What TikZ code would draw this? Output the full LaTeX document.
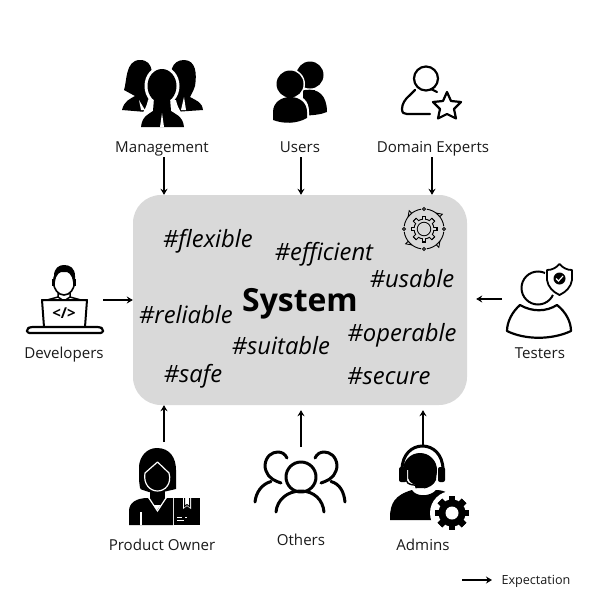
\documentclass[tikz,border=0pt]{standalone}
\usepackage{fontspec}
\setmainfont{Open Sans}
\usetikzlibrary{arrows.meta}
\definecolor{boxgrey}{HTML}{D9D9D9}
\definecolor{lblcol}{HTML}{1A1A1A}
\tikzset{
  arr/.style={-{Stealth[length=6pt,width=7pt]},line width=1.5pt,black,shorten >=0pt},
  lbl/.style={font=\fontsize{15.1}{17}\selectfont,text=lblcol,inner sep=0pt,anchor=center},
  tag/.style={font=\fontsize{23.8}{26}\selectfont\itshape,text=black,inner sep=0pt,anchor=center},
  sysbox/.style={fill=boxgrey,rounded corners=28pt,draw=none},
  ol/.style={draw=black,line width=2.2pt,line cap=round,line join=round},
  wl/.style={draw=white,line width=1.5pt}
}
\newcommand{\gearshape}[7]{%
  \begin{scope}[shift={(#1,#2)}]
    \fill[#6] (0,0) circle[radius=#4 pt];
    \foreach \a in {1,...,#7}{
      \fill[#6,rotate=\a*360/#7] (-#5,-#3) rectangle (#5,#3);
    }
  \end{scope}}
\begin{document}
\begin{tikzpicture}[x=1pt,y=-1pt]
\useasboundingbox (0,0) rectangle (600,600);
\fill[white] (0,0) rectangle (600,600);

% central box
\node[sysbox,minimum width=334pt,minimum height=210pt,inner sep=0pt] (sys) at (300,300) {};
\node[font=\fontsize{31.9}{34}\selectfont\bfseries,inner sep=0pt] (systxt) at (300,304) {System};
\node[tag] (t1) at (208,241) {\#flexible};
\node[tag] (t2) at (324,254) {\#efficient};
\node[tag] (t3) at (412,279) {\#usable};
\node[tag] (t4) at (186,315) {\#reliable};
\node[tag] (t5) at (402,335) {\#operable};
\node[tag] (t6) at (281,346) {\#suitable};
\node[tag] (t7) at (193,376) {\#safe};
\node[tag] (t8) at (389,376) {\#secure};

% gear icon in box
\gearshape{424}{229}{13.5}{10.5}{2.4}{black}{8}
\gearshape{424}{229}{12.3}{9.4}{1.3}{boxgrey}{8}
\fill[black] (424,229) circle[radius=7.2pt];
\fill[boxgrey] (424,229) circle[radius=6.2pt];
\foreach \a in {0,90,180,270}{
  \draw[black,line width=0.9pt,fill=boxgrey] (424,229) ++(\a:20pt) circle[radius=1.5pt];
  \draw[black,line width=0.9pt] (424,229) ++(\a+8:20pt) arc[start angle=\a+8,delta angle=74,radius=20pt];
  \filldraw[fill=boxgrey,draw=black,line width=0.8pt] (424,229) ++(\a+45:20pt) ++(\a+135:2.5pt) -- ++(\a+315:5pt) -- ++(\a+45:3.5pt) -- cycle;
}

% Management
\fill (122,110) .. controls (124,101) and (130,99) .. (135,96)
  -- (124,90) .. controls (127,82) and (125,60) .. (140,60)
  .. controls (155,60) and (153,78) .. (150,90) -- (146,112) -- cycle;
\fill (174,112) -- (172,90) .. controls (168,72) and (172,60) .. (184,60)
  .. controls (196,60) and (197,74) .. (195,86) .. controls (193,92) and (191,95) .. (190,97)
  .. controls (197,101) and (202,102) .. (203,110) -- cycle;
\fill[white] (162,86) ellipse[x radius=17.5pt,y radius=20pt];
\fill[white] (137,130) .. controls (138,115) and (146,112) .. (148,100) -- (176,100)
  .. controls (178,112) and (186,115) .. (188,130) -- cycle;
\fill (162,86) ellipse[x radius=14.5pt,y radius=17pt];
\fill (141,127) .. controls (142,116) and (149,114) .. (153,111) -- (154,98) -- (170,98)
  -- (171,111) .. controls (175,114) and (183,116) .. (184,127) -- cycle;
\fill[white] (162,113) -- (160,127) -- (164,127) -- cycle;
\fill[white] (139,100) -- (141,110) -- (145,110) -- cycle;
\fill[white] (184,97) -- (181,110) -- (186,110) -- cycle;

% Users
\fill (310,75) circle[radius=13.5pt];
\fill (303,90) rectangle (315,100);
\fill (305,90) .. controls (318,88) and (327,95) .. (327,112)
  .. controls (320,115) and (312,115) .. (303,116) -- cycle;
\fill[white] (290,84) circle[radius=15pt];
\fill[white] (271,125) -- (271,112) .. controls (271,100) and (282,95) .. (291,95)
  .. controls (302,95) and (309,100) .. (309,112) -- (309,125) -- cycle;
\fill (290,84) circle[radius=13.5pt];
\fill (273,120) -- (273,112) .. controls (273,102) and (282,97) .. (290,97)
  .. controls (300,97) and (307,103) .. (307,112) -- (307,118)
  .. controls (296,124) and (284,124) .. (273,120) -- cycle;

% Domain Experts
\draw[ol] (426,78.5) circle[radius=12pt];
\draw[ol] (415,90) -- (410,95) .. controls (405,99) and (402,104) .. (402,109)
  .. controls (402,113) and (404,114) .. (407,114) -- (430,114);
\draw[ol] (431,89) -- (437,92);
\draw[ol] (447,92) -- (451,101) -- (461,102) -- (454,109) -- (456,118.5) -- (447,114)
  -- (438,118.5) -- (440,109) -- (433,102) -- (443,101) -- cycle;

% Developers
\draw[line width=1.6pt] (64,282) ellipse[x radius=10.5pt,y radius=13pt];
\fill (54,282) -- (54,276) .. controls (54,268) and (59,265) .. (64,265)
  .. controls (70,265) and (75,268) .. (75,276) -- (75,282) -- (73,282)
  .. controls (72,274) and (68,271) .. (64,272) .. controls (60,271) and (56,274) .. (55,282) -- cycle;
\fill (52,279) rectangle (55,286);
\fill (73,279) rectangle (76,286);
\draw[line width=1.5pt] (58,293) -- (58,297) -- (47,300);
\draw[line width=1.5pt] (70,293) -- (70,297) -- (81,300);
\draw[line width=1.5pt] (58,297) -- (64,301) -- (70,297);
\draw[line width=2pt,line join=round,fill=white] (42,300) -- (87,300) -- (85,327) -- (44,327) -- cycle;
\node[inner sep=0pt,font=\fontsize{15}{16}\selectfont\bfseries] (code) at (64,313) {</>};
\draw[line width=2.2pt,line join=round,rounded corners=2.5pt,fill=white] (27,333) -- (103,333) -- (103,329) -- (100,327) -- (30,327) -- (27,329) -- cycle;

% Testers
\draw[line width=2pt] (538,288) circle[radius=16.5pt];
\draw[line width=2.2pt,line join=round] (520,305) .. controls (512,312) and (507,322) .. (507,331)
  .. controls (525,340) and (552,340) .. (571,331)
  .. controls (571,322) and (566,312) .. (557,305)
  .. controls (546,312) and (532,312) .. (520,305) -- cycle;
\fill[white] (546,268) -- (559,261) -- (575,268) -- (575,280)
  .. controls (574,288) and (567,295) .. (559,298) .. controls (551,295) and (544,288) .. (544,280) -- cycle;
\draw[line width=1.8pt,line join=round] (547,270) .. controls (552,270) and (556,268) .. (559.5,264)
  .. controls (563,268) and (567,270) .. (572,270) -- (572,280)
  .. controls (571,287) and (566,292) .. (559.5,295) .. controls (553,292) and (548,287) .. (547,280) -- cycle;
\fill (559.5,278.5) circle[radius=6pt];
\draw[white,line width=1.2pt] (556,278.5) -- (558.5,281) -- (563,276);

% Product Owner
\fill (157,448) .. controls (170,448) and (176,458) .. (176,470) -- (176,489)
  -- (163,492) -- (149,492) -- (143,490) .. controls (139,490) and (140,486) .. (139,480) -- (139,466)
  .. controls (140,456) and (147,448) .. (157,448) -- cycle;
\fill (150,490) rectangle (165,505);
\draw[white,line width=1.2pt,line join=round] (157.5,462) -- (169,473)
  .. controls (172,484) and (165,491) .. (157.5,491)
  .. controls (150,491) and (143,484) .. (145,473) -- cycle;
\fill (129,525) -- (129,511) .. controls (129,503) and (136,498) .. (148,498)
  -- (157,510) -- (167,498) -- (173,498) -- (173,525) -- cycle;
\draw[white,line width=1.2pt] (149,498) -- (157.5,511) -- (166,498);
\draw[white,line width=1.2pt] (141,525) -- (141,512);
\fill (174,498) rectangle (200,525);
\fill[white] (183,498) -- (183,509) -- (187,506) -- (191,509) -- (191,498) -- cycle;
\draw[black,line width=1pt] (184.5,498) -- (184.5,506.5) -- (187,504.5) -- (189.5,506.5) -- (189.5,498);
\draw[white,line width=1pt] (177,520) -- (184,520);
\draw[white,line width=1pt] (177,517) -- (182,517) (185,517) -- (187,517);

% Others
\begin{scope}[line width=3pt,line cap=round,line join=round]
\draw (301,477) circle[radius=15pt];
\draw (276,512) .. controls (277,500) and (287,491) .. (301,491)
  .. controls (314,491) and (323,500) .. (324,512);
\draw (277,481.5) .. controls (270,479) and (265,473) .. (265,465)
  .. controls (266,456) and (272,452) .. (278,452) .. controls (282,452) and (285,454) .. (287,458);
\draw (277,481.5) -- (281,483);
\draw (271,481.5) .. controls (262,484) and (256,492) .. (255,502);
\draw (325,481.5) .. controls (332,479) and (337,473) .. (337,465)
  .. controls (336,456) and (330,452) .. (324,452) .. controls (320,452) and (317,454) .. (315,458);
\draw (325,481.5) -- (321,483);
\draw (331,481.5) .. controls (340,484) and (344,492) .. (345,502);
\end{scope}

% Admins
\fill (420,470) ellipse[x radius=17pt,y radius=17pt];
\fill (405,470) -- (437,470) -- (436,480) .. controls (432,490) and (414,492) .. (410,484) -- cycle;
\fill[white] (408,470) -- (408,478) .. controls (409,484) and (416,486) .. (424,486)
  -- (424,489) .. controls (416,490) and (408,487) .. (405,478) -- (405,470) -- cycle;
\draw[line width=3pt] (402,470) .. controls (402,438) and (443,438) .. (443,470);
\fill[rounded corners=2pt] (399,467) rectangle (407,482);
\fill[rounded corners=2pt] (438,467) rectangle (445,482);
\draw[line width=1.4pt] (406,480) .. controls (408,486) and (413,484) .. (418,486);
\fill[rounded corners=1pt] (415,484) rectangle (425,488);
\fill (390,518) .. controls (390,503) and (395,495) .. (412,490)
  .. controls (416,497) and (430,497) .. (436,490) .. controls (440,490) and (445,491) .. (447,493)
  -- (432,510) -- (432,520) -- (390,520) -- cycle;
\fill[white] (452,513) circle[radius=22pt];
\gearshape{452}{513}{17}{13.5}{3.2}{black}{8}
\fill[white] (452,513) circle[radius=6.5pt];

% labels
\node[lbl] (lmgmt) at (162,149) {Management};
\node[lbl] (lusers) at (300,147) {Users};
\node[lbl] (ldom) at (433,149) {Domain Experts};
\node[lbl] (ldev) at (64,355) {Developers};
\node[lbl] (ltest) at (540,353) {Testers};
\node[lbl] (lpo) at (162,545) {Product Owner};
\node[lbl] (loth) at (301,540) {Others};
\node[lbl] (ladm) at (423,545) {Admins};
\node[font=\fontsize{12.6}{14}\selectfont,text=lblcol,inner sep=0pt] (lexp) at (536,581) {Expectation};

% connectors
\coordinate (cmgmt) at (164,157);
\coordinate (cusers) at (301,157);
\coordinate (cdom) at (432,157);
\coordinate (cdev) at (103,300);
\coordinate (ctest) at (502,299);
\coordinate (cpo) at (164,442);
\coordinate (coth) at (301,447);
\coordinate (cadm) at (423,447);
\coordinate (clega) at (462,580);
\coordinate (clegb) at (492,580);
\draw[arr] (cmgmt) -- (cmgmt |- sys.north);
\draw[arr] (cusers) -- (cusers |- sys.north);
\draw[arr] (cdom) -- (cdom |- sys.north);
\draw[arr] (cdev) -- (cdev -| sys.west);
\draw[arr] (ctest) -- ([xshift=9pt]ctest -| sys.east);
\draw[arr] (cpo) -- (cpo |- sys.south);
\draw[arr] (coth) -- ([yshift=-5pt]coth |- sys.south);
\draw[arr] (cadm) -- ([yshift=-5pt]cadm |- sys.south);
\draw[arr] (clega) -- (clegb);
\end{tikzpicture}
\end{document}
